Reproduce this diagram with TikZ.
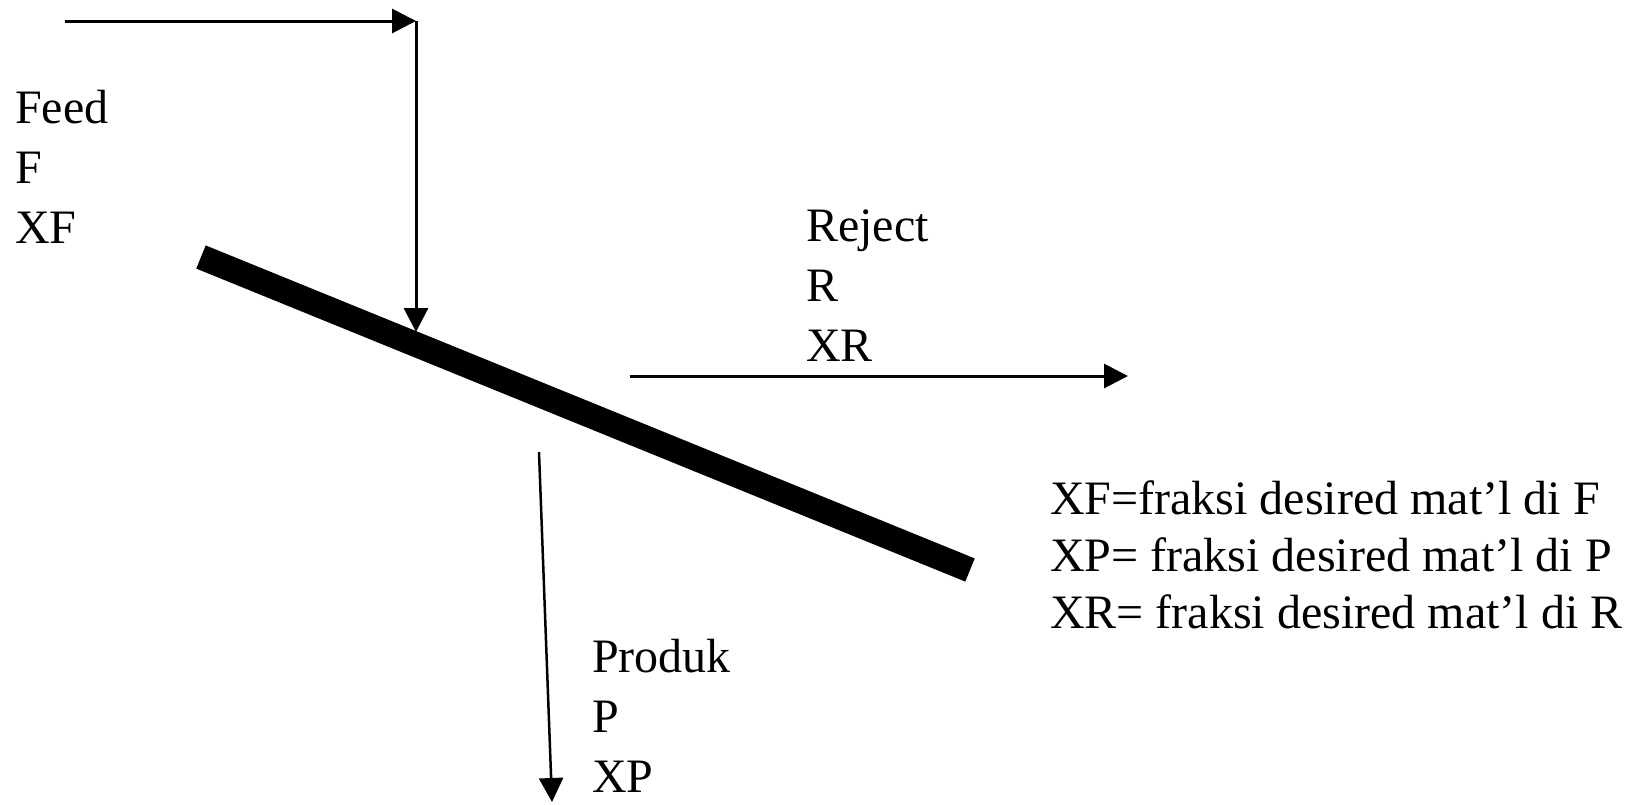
\documentclass[tikz,border=0pt]{standalone}
\usepackage{fontspec}
\setmainfont{Liberation Serif}
\usetikzlibrary{arrows.meta}
\begin{document}
\begin{tikzpicture}[x=1pt,y=-1pt,
  lbl/.style={anchor=base west,inner sep=0pt,font=\fontsize{48}{58}\selectfont},
  flow/.style={line width=3pt,-{Triangle[length=24pt,width=24pt]}},
  thinflow/.style={line width=2.5pt,-{Triangle[length=24pt,width=24pt]}},
  membrane/.style={line width=25pt,line cap=butt}]
\useasboundingbox (0,0) rectangle (1638,804);
% membrane
\coordinate (m1) at (201,257);
\coordinate (m2) at (970,570);
\draw[membrane] (m1) -- (m2);
% feed
\coordinate (fs) at (65,21);
\coordinate (fc) at (416,21);
\coordinate (fb) at (416,332);
\draw[flow] (fs) -- (fc);
\draw[flow] (fc) -- (fb);
% reject
\coordinate (rs) at (630,376);
\coordinate (re) at (1128,376);
\draw[flow] (rs) -- (re);
% product
\coordinate (ps) at (539,452);
\coordinate (pe) at (552,802);
\draw[thinflow] (ps) -- (pe);
% labels
\node[lbl] (feed1) at (15,123) {Feed};
\node[lbl] (feed2) at (15,183) {F};
\node[lbl] (feed3) at (15,243) {XF};
\node[lbl] (rej1) at (806,241) {Reject};
\node[lbl] (rej2) at (806,301) {R};
\node[lbl] (rej3) at (806,361) {XR};
\node[lbl] (prod1) at (592,672) {Produk};
\node[lbl] (prod2) at (592,732) {P};
\node[lbl] (prod3) at (592,792) {XP};
\node[lbl] (leg1) at (1050,514) {XF=fraksi desired mat’l di F};
\node[lbl] (leg2) at (1050,571) {XP= fraksi desired mat’l di P};
\node[lbl] (leg3) at (1050,628) {XR= fraksi desired mat’l di R};
\end{tikzpicture}
\end{document}
